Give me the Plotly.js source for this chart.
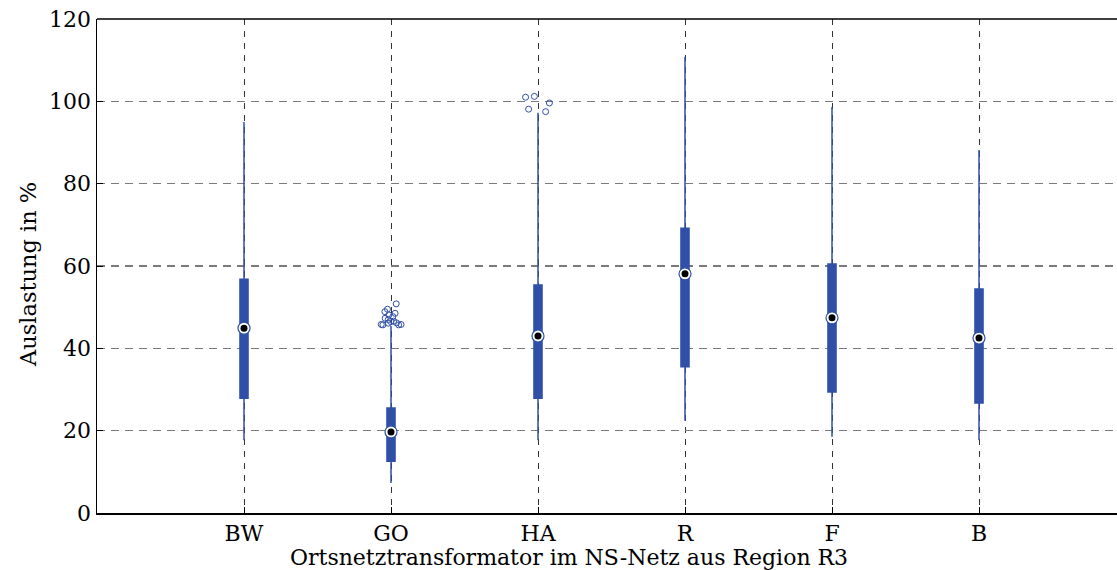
<!DOCTYPE html>
<html>
<head>
<meta charset="utf-8">
<script src="https://cdn.plot.ly/plotly-3.0.1.min.js"></script>
<style>
html,body{margin:0;padding:0;overflow:hidden;background:#fff;width:1117px;height:570px;}
#chart{width:1117px;height:570px;}
</style>
</head>
<body>
<div id="chart"></div>
<script>
// Data
const categories = ["BW", "GO", "HA", "R", "F", "B"];
const lowerWhisker = [17.7, 7.3, 17.7, 22.4, 18.5, 17.7];
const q1 = [27.9, 12.6, 27.9, 35.5, 29.4, 26.7];
const median = [44.9, 19.7, 43.0, 58.1, 47.4, 42.5];
const q3 = [56.8, 25.5, 55.4, 69.2, 60.5, 54.4];
const upperWhisker = [95.0, 45.4, 97.2, 110.8, 98.6, 88.2];
const outliersGO = [50.8, 49.5, 48.9, 48.5, 48.1, 47.7, 47.3, 47.0, 46.2, 46.5, 46.6, 46.1, 45.8, 45.7, 45.8, 45.7];
const outliersHA = [101.2, 101.0, 99.6, 97.5, 98.1];
const yTicks = [0, 20, 40, 60, 80, 100, 120];
const xTitle = "Ortsnetztransformator im NS-Netz aus Region R3";
const yTitle = "Auslastung in %";

const blue = "#3050a8";
const font = "'DejaVu Serif', 'Liberation Serif', serif";

const outlierStyle = {
  type: "box",
  boxpoints: "all", jitter: 1, pointpos: 0,
  width: 0.2,
  fillcolor: "rgba(0,0,0,0)",
  line: {color: "rgba(0,0,0,0)", width: 0},
  marker: {symbol: "circle-open", size: 6, color: blue, line: {width: 1, color: blue}},
  hoverinfo: "skip", showlegend: false
};

const traces = [
  {
    type: "box",
    x: categories,
    q1: q1, median: median, q3: q3,
    lowerfence: lowerWhisker, upperfence: upperWhisker,
    boxpoints: false,
    width: 0.055,
    whiskerwidth: 0,
    fillcolor: blue,
    line: {color: blue, width: 1.5},
    hoverinfo: "skip",
    showlegend: false
  },
  Object.assign({}, outlierStyle, {x: outliersGO.map(() => categories[1]), y: outliersGO}),
  Object.assign({}, outlierStyle, {x: outliersHA.map(() => categories[2]), y: outliersHA}),
  {
    type: "scatter", mode: "markers",
    x: categories, y: median,
    marker: {symbol: "circle", size: 12, color: "#ffffff", line: {color: blue, width: 1.2}},
    hoverinfo: "skip", showlegend: false
  },
  {
    type: "scatter", mode: "markers",
    x: categories, y: median,
    marker: {symbol: "circle", size: 7, color: "#000000", line: {width: 0}},
    hoverinfo: "skip", showlegend: false
  }
];

const plotW = 1140 - 97;
const layout = {
  width: 1140, height: 570,
  margin: {l: 97, r: 0, t: 19, b: 57},
  paper_bgcolor: "#ffffff", plot_bgcolor: "#ffffff",
  font: {family: font, size: 22, color: "#000"},
  boxmode: "overlay",
  showlegend: false,
  xaxis: {
    type: "category",
    categoryorder: "array", categoryarray: categories,
    range: [-1, -1 + plotW / 147],
    showline: true, mirror: false, linecolor: "#000", linewidth: 1.5,
    showgrid: true, gridcolor: "#333", gridwidth: 1, griddash: "6px,6px",
    ticks: "inside", ticklen: 6, tickcolor: "#000", tickwidth: 1,
    tickfont: {family: font, size: 22, color: "#000"},
    zeroline: false
  },
  yaxis: {
    range: [0, 120],
    tickvals: yTicks, ticktext: yTicks.map(String),
    showline: true, mirror: false, linecolor: "#000", linewidth: 1.5,
    showgrid: true, gridcolor: "#7a7a7a", gridwidth: 1.3, griddash: "8px,6px",
    ticks: "inside", ticklen: 6, tickcolor: "#000", tickwidth: 1,
    tickfont: {family: font, size: 22, color: "#000"},
    zeroline: false
  },
  shapes: [
    {type: "line", xref: "paper", yref: "paper", x0: 0, x1: 1, y0: 1, y1: 1,
     line: {color: "#000", width: 1.5}}
  ],
  annotations: [
    {
      text: xTitle, xref: "paper", yref: "paper",
      x: (569 - 97) / plotW, y: -(557 - 513) / 494,
      xanchor: "center", yanchor: "middle", showarrow: false,
      font: {family: font, size: 22, color: "#000"}
    },
    {
      text: yTitle, xref: "paper", yref: "paper",
      x: (28 - 97) / plotW, y: (513 - 275) / 494,
      xanchor: "center", yanchor: "middle", showarrow: false, textangle: -90,
      font: {family: font, size: 22.5, color: "#000"}
    }
  ]
};

Plotly.newPlot("chart", traces, layout, {displayModeBar: false, staticPlot: true});
</script>
</body>
</html>
